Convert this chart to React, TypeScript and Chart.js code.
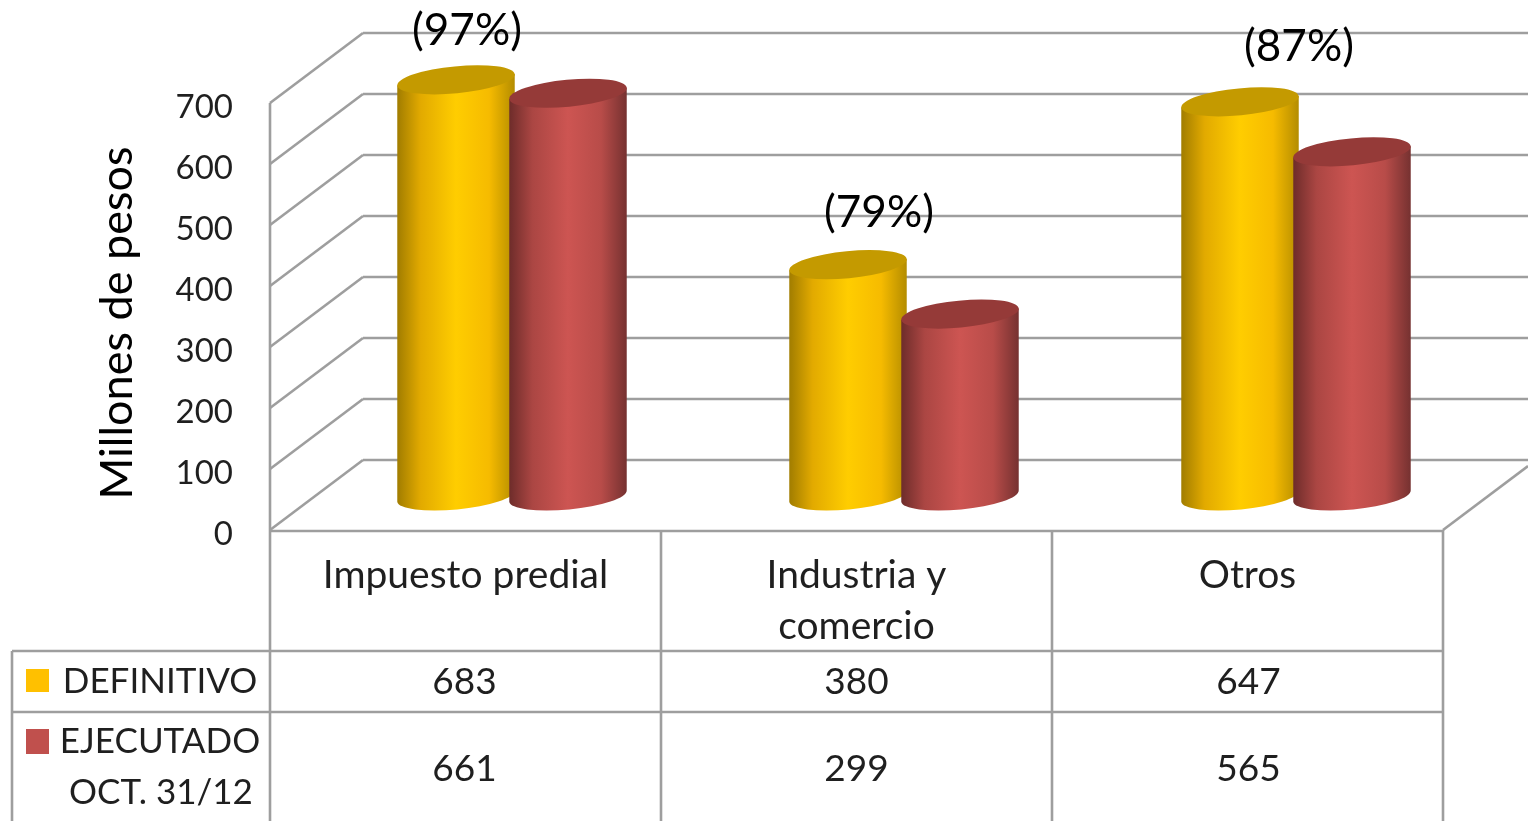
import React, { useEffect, useRef } from "react";
import { Chart, registerables } from "chart.js";

Chart.register(...registerables);

const categories: (string | string[])[] = ["Impuesto predial", ["Industria y", "comercio"], "Otros"];
const definitivo = [683, 380, 647];
const ejecutado = [661, 299, 565];
const percentLabels = ["(97%)", "(79%)", "(87%)"];
const yAxisLabel = "Millones de pesos";
const legendDefinitivo = ["DEFINITIVO"];
const legendEjecutado = ["EJECUTADO", "OCT. 31/12"];

const FONT = "Lato, Carlito, Calibri, sans-serif";
const GRID = "#9e9e9e";
const TEXT = "#1f1f1f";
const DEPTH_X = 93;
const DEPTH_Y = 70;
const ROW_1 = 651;
const ROW_2 = 712;
const TABLE_LEFT = 12;

const looks = [
  {
    top: "#c49a00",
    swatch: "#ffc000",
    stops: ["#a07c00", "#e2aa00", "#ffcd00", "#f6bb00", "#b38c00"],
  },
  {
    top: "#953a38",
    swatch: "#c0504d",
    stops: ["#6d2c2a", "#ab4643", "#cd5552", "#b84c49", "#753130"],
  },
];
const stopAt = [0, 0.2, 0.5, 0.78, 1];
const percentShift = [
  { dx: 2, dy: -49 },
  { dx: 23, dy: -52 },
  { dx: 52, dy: -55 },
];

const line = (ctx: CanvasRenderingContext2D, x1: number, y1: number, x2: number, y2: number) => {
  ctx.beginPath();
  ctx.moveTo(x1, y1);
  ctx.lineTo(x2, y2);
  ctx.stroke();
};

const tickNudgePlugin = {
  id: "tickNudge",
  beforeDraw(chart: any) {
    chart.scales.y.getLabelItems().forEach((item: any) => {
      if (!item.nudged) {
        item.textOffset += 4;
        item.nudged = true;
      }
    });
  },
};

const wallsPlugin = {
  id: "walls",
  beforeDatasetsDraw(chart: any) {
    const { ctx, scales } = chart;
    const y = scales.y;
    const x = scales.x;
    ctx.save();
    ctx.strokeStyle = GRID;
    ctx.lineWidth = 2.6;
    y.ticks.forEach((t: any) => {
      const py = y.getPixelForValue(t.value);
      line(ctx, x.left, py, x.left + DEPTH_X, py - DEPTH_Y);
      line(ctx, x.left + DEPTH_X, py - DEPTH_Y, chart.width, py - DEPTH_Y);
    });
    const zero = y.getPixelForValue(0);
    line(ctx, x.right, zero, chart.width, zero - (chart.width - x.right) * (DEPTH_Y / DEPTH_X));
    line(ctx, x.left, y.getPixelForValue(700), x.left, chart.height);
    line(ctx, x.left, zero + 1, x.right, zero + 1);
    // data table rules
    const bounds = [0, 1, 2].map((i) => x.getPixelForTick(i) + x.width / 6);
    bounds.forEach((b) => line(ctx, b, zero, b, chart.height));
    line(ctx, TABLE_LEFT, ROW_1, x.right, ROW_1);
    line(ctx, TABLE_LEFT, ROW_2, x.right, ROW_2);
    line(ctx, TABLE_LEFT, ROW_1, TABLE_LEFT, chart.height);
    ctx.restore();
  },
};

const cylinderPlugin = {
  id: "cylinders",
  afterDatasetsDraw(chart: any) {
    const { ctx } = chart;
    const tilt = (-5.5 * Math.PI) / 180;
    const rx = 59;
    const ry = 13.5;
    const n = chart.data.labels.length;
    ctx.save();
    for (let i = 0; i < n; i++) {
      chart.data.datasets.forEach((_: any, d: number) => {
        const el = chart.getDatasetMeta(d).data[i];
        const look = looks[d];
        const cx = el.x + DEPTH_X / 2 + i;
        const topY = el.y - 33.5;
        const baseY = el.base - 34;
        const ex = rx * Math.cos(tilt);
        const ey = rx * Math.sin(tilt);
        const g = ctx.createLinearGradient(cx - rx, 0, cx + rx, 0);
        look.stops.forEach((c, k) => g.addColorStop(stopAt[k], c));
        ctx.beginPath();
        ctx.moveTo(cx - ex, topY - ey);
        ctx.lineTo(cx - ex, baseY - ey);
        ctx.ellipse(cx, baseY, rx, ry, tilt, Math.PI, 0, true);
        ctx.lineTo(cx + ex, topY + ey);
        ctx.closePath();
        ctx.fillStyle = g;
        ctx.fill();
        ctx.beginPath();
        ctx.ellipse(cx, topY, rx, ry, tilt, 0, Math.PI * 2);
        ctx.fillStyle = look.top;
        ctx.fill();
      });
    }
    ctx.restore();
  },
};

const tablePlugin = {
  id: "table",
  afterDraw(chart: any) {
    const { ctx, scales } = chart;
    const x = scales.x;
    ctx.save();
    ctx.textBaseline = "middle";
    ctx.textAlign = "center";
    ctx.fillStyle = TEXT;
    ctx.font = `37px ${FONT}`;
    definitivo.forEach((v, i) => ctx.fillText(String(v), x.getPixelForTick(i) - 1 + i, 682));
    ejecutado.forEach((v, i) => ctx.fillText(String(v), x.getPixelForTick(i) - 1 + i, 769));
    ctx.font = `35px ${FONT}`;
    ctx.fillText(legendDefinitivo[0], 160, 682);
    ctx.fillText(legendEjecutado[0], 160, 742);
    ctx.fillText(legendEjecutado[1], 161, 793);
    ctx.fillStyle = looks[0].swatch;
    ctx.fillRect(26, 669, 23, 23);
    ctx.fillStyle = looks[1].swatch;
    ctx.fillRect(26, 729, 23, 25);

    ctx.fillStyle = "#000";
    ctx.font = `44px ${FONT}`;
    percentLabels.forEach((label, i) => {
      const el = chart.getDatasetMeta(0).data[i];
      const top = el.y - 33.5;
      ctx.fillText(label, el.x + DEPTH_X / 2 + percentShift[i].dx + 9, top + percentShift[i].dy);
    });
    ctx.font = `45px ${FONT}`;
    ctx.translate(117, 323);
    ctx.rotate(-Math.PI / 2);
    ctx.fillText(yAxisLabel, 0, 0);
    ctx.restore();
  },
};

export default function App() {
  const ref = useRef<HTMLCanvasElement>(null);
  useEffect(() => {
    document.body.style.margin = "0";
    document.body.style.overflow = "hidden";
    const chart = new Chart(ref.current as HTMLCanvasElement, {
      type: "bar",
      data: {
        labels: categories as any,
        datasets: [
          { label: "DEFINITIVO", data: definitivo, backgroundColor: "rgba(0,0,0,0)", barThickness: 112 },
          { label: "EJECUTADO OCT. 31/12", data: ejecutado, backgroundColor: "rgba(0,0,0,0)", barThickness: 112 },
        ],
      },
      options: {
        animation: false,
        responsive: false,
        devicePixelRatio: 1,
        layout: { padding: { top: 103, right: 85, left: 0, bottom: 0 } },
        plugins: { legend: { display: false }, title: { display: false }, tooltip: { enabled: false } },
        scales: {
          x: {
            grid: { display: false },
            border: { display: false },
            afterFit: (s: any) => {
              s.height = 291;
            },
            ticks: {
              font: { family: FONT, size: 39, lineHeight: 1.31 },
              color: TEXT,
              padding: 12,
              maxRotation: 0,
              minRotation: 0,
              autoSkip: false,
            },
          },
          y: {
            min: 0,
            max: 700,
            grid: { display: false },
            border: { display: false },
            afterFit: (s: any) => {
              s.width = 270;
            },
            ticks: {
              stepSize: 100,
              font: { family: FONT, size: 33 },
              color: TEXT,
              padding: 29,
            },
          },
        },
      },
      plugins: [tickNudgePlugin, wallsPlugin, cylinderPlugin, tablePlugin],
    } as any);
    return () => chart.destroy();
  }, []);
  return <canvas ref={ref} width={1528} height={821} style={{ display: "block" }} />;
}
